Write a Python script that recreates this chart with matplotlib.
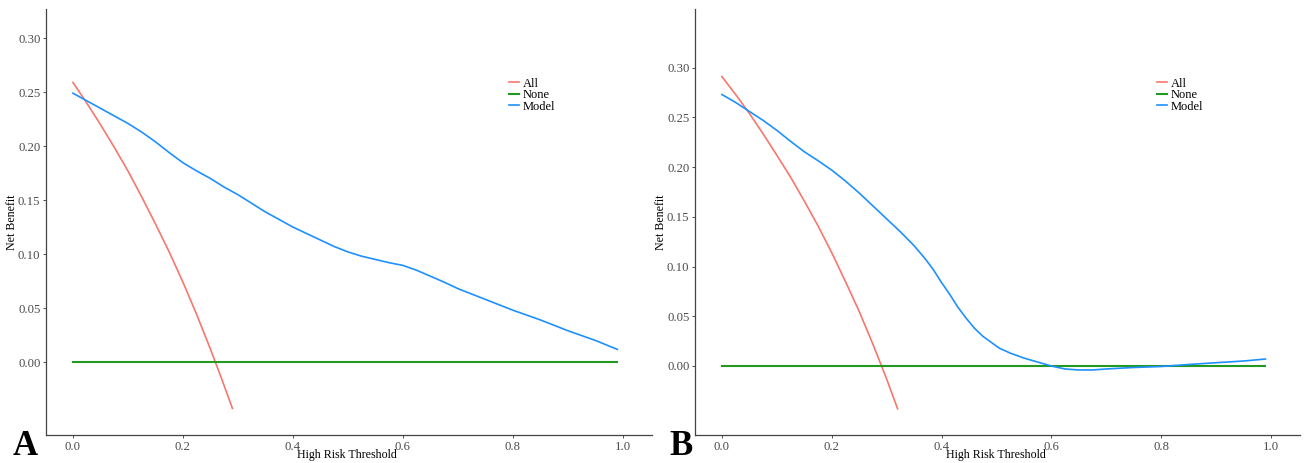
import matplotlib.pyplot as plt

plt.rcParams['font.family'] = ['Liberation Serif', 'DejaVu Serif']

# panel A
a_all_x = [0.0, 0.025, 0.05, 0.075, 0.10, 0.125, 0.15, 0.175, 0.20, 0.225,
           0.25, 0.27, 0.29]
a_all_y = [0.259, 0.240, 0.220, 0.199, 0.177, 0.153, 0.128, 0.102, 0.074,
           0.044, 0.012, -0.015, -0.043]
a_model_x = [0.0, 0.025, 0.05, 0.075, 0.10, 0.125, 0.15, 0.175, 0.20, 0.225,
             0.25, 0.275, 0.30, 0.325, 0.35, 0.375, 0.40, 0.425, 0.45, 0.475,
             0.50, 0.525, 0.55, 0.575, 0.60, 0.625, 0.65, 0.675, 0.70, 0.75,
             0.80, 0.85, 0.90, 0.95, 0.99]
a_model_y = [0.249, 0.242, 0.235, 0.228, 0.221, 0.213, 0.204, 0.194, 0.1846,
             0.177, 0.170, 0.162, 0.155, 0.147, 0.139, 0.132, 0.125, 0.119,
             0.113, 0.107, 0.102, 0.098, 0.095, 0.092, 0.0895, 0.085, 0.0795,
             0.074, 0.068, 0.058, 0.048, 0.039, 0.029, 0.020, 0.0117]

# panel B
b_all_x = [0.0, 0.025, 0.05, 0.075, 0.10, 0.125, 0.15, 0.175, 0.20, 0.225,
           0.25, 0.275, 0.30, 0.32]
b_all_y = [0.291, 0.273, 0.254, 0.2335, 0.212, 0.190, 0.166, 0.141, 0.114,
           0.085, 0.055, 0.022, -0.013, -0.043]
b_model_x = [0.0, 0.025, 0.05, 0.075, 0.10, 0.125, 0.15, 0.175, 0.20, 0.225,
             0.25, 0.275, 0.30, 0.325, 0.35, 0.37, 0.385, 0.40, 0.415, 0.43,
             0.445, 0.46, 0.475, 0.49, 0.505, 0.525, 0.55, 0.575, 0.60, 0.625,
             0.65, 0.675, 0.70, 0.75, 0.80, 0.85, 0.90, 0.95, 0.99]
b_model_y = [0.273, 0.265, 0.256, 0.247, 0.237, 0.226, 0.2155, 0.2065, 0.197,
             0.186, 0.174, 0.161, 0.148, 0.135, 0.121, 0.108, 0.097, 0.084,
             0.072, 0.059, 0.048, 0.038, 0.030, 0.024, 0.018, 0.013, 0.008,
             0.004, 0.0, -0.003, -0.004, -0.004, -0.003, -0.0015, -0.0005,
             0.0015, 0.0033, 0.005, 0.007]

none_x = [0.0, 0.99]
none_y = [0.0, 0.0]

labels = ['All', 'None', 'Model']
colors = ['#F8766D', '#229A22', '#1E90FF']
yticks = [0.0, 0.05, 0.10, 0.15, 0.20, 0.25, 0.30]
xticks = [0.0, 0.2, 0.4, 0.6, 0.8, 1.0]

fig = plt.figure(figsize=(13.04, 4.63), dpi=100)
ax1 = fig.add_axes([46/1304, 28/463, 606/1304, 426/463])
ax2 = fig.add_axes([695/1304, 28/463, 605/1304, 426/463])

panels = [
    (ax1, a_all_x, a_all_y, a_model_x, a_model_y, (-0.0676, 0.327), 'A', 13),
    (ax2, b_all_x, b_all_y, b_model_x, b_model_y, (-0.0694, 0.359), 'B', 669),
]

for ax, ax_x, ax_y, mx, my, ylim, tag, tag_x in panels:
    ax.plot(ax_x, ax_y, color=colors[0], lw=1.2, label=labels[0])
    ax.plot(none_x, none_y, color=colors[1], lw=1.5, label=labels[1])
    ax.plot(mx, my, color=colors[2], lw=1.2, label=labels[2])
    ax.set_xlim(-0.049, 1.053)
    ax.set_ylim(*ylim)
    ax.set_xticks(xticks)
    ax.set_xticklabels(['%.1f' % v for v in xticks])
    ax.set_yticks(yticks)
    ax.set_yticklabels(['%.2f' % v for v in yticks])
    for s in ['top', 'right']:
        ax.spines[s].set_visible(False)
    for s in ['left', 'bottom']:
        ax.spines[s].set_color('#444444')
        ax.spines[s].set_linewidth(0.9)
    ax.tick_params(colors='#4D4D4D', labelsize=9.2, length=2.5, width=0.7, pad=1.5)
    ax.set_xlabel('High Risk Threshold', fontsize=8.6, va='center')
    ax.xaxis.set_label_coords(0.497, -0.047)
    ax.set_ylabel('Net Benefit', fontsize=8.6, va='center')
    ax.yaxis.set_label_coords(-0.056, 0.5)
    ax.legend(loc='upper left', bbox_to_anchor=(0.754, 0.853), frameon=False,
              fontsize=9, handlelength=0.8, handletextpad=0.3,
              labelspacing=-0.05, borderpad=0)
    fig.text(tag_x / 1304, 8 / 463, tag, fontsize=25, fontweight='bold',
             ha='left', va='baseline')

fig.savefig('out.png', dpi=100)
